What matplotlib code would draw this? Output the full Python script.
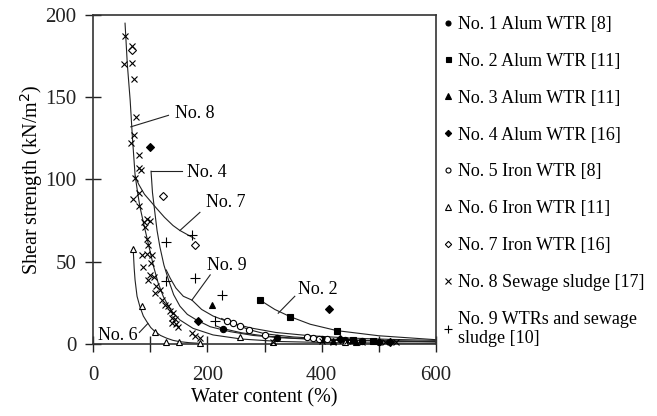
import numpy as np
import matplotlib.pyplot as plt

plt.rcParams['font.family'] = ['Liberation Serif', 'DejaVu Serif']

# Measured points: water content (%) and shear strength (kN/m2) per data set
no1_w = [228, 321, 400, 440, 470, 500]
no1_s = [9.1, 3.5, 3.0, 2.5, 2.0, 1.5]
no2_w = [292, 345, 427, 455, 490]
no2_s = [26.7, 16.6, 8.1, 2.5, 2.0]
no3_w = [209, 420, 460]
no3_s = [23.7, 2.0, 1.5]
no4_w = [100, 183, 413, 432, 520]
no4_s = [120, 14, 21, 3.0, 1.5]
no5_w = [234, 245, 257, 272, 301, 375, 385, 395, 410]
no5_s = [14.0, 12.5, 11.0, 8.5, 5.5, 4.0, 3.5, 3.0, 3.0]
no6_w = [70.5, 85, 108.5, 128, 150, 187, 257, 315, 440]
no6_s = [57.8, 23, 7.5, 1.4, 1.4, 0.4, 4.5, 1.5, 1.0]
no7_w = [69, 122, 178]
no7_s = [179, 90, 60]
no8_w = [56, 68, 55, 68, 72, 76, 71, 66, 81, 81, 84, 74, 81, 70, 81, 94, 89, 91, 100,
         94, 97, 85, 94, 103, 88, 102, 100, 106, 97, 111, 117, 109, 120, 126, 132, 135,
         140, 138, 143, 146, 138, 149, 173, 178, 187, 315, 400, 420, 445, 470, 490, 510, 530]
no8_s = [187, 181, 170, 171, 161, 138, 127, 122, 115, 107, 106, 101, 92, 88, 84, 76, 74, 71, 75,
         64, 60, 54, 55, 54, 47, 49, 42, 41, 39, 35, 33, 31, 27, 24, 23, 20,
         19, 16, 15, 12, 13, 10.5, 6.5, 5, 3.4, 1.4, 2.0, 1.5, 2.0, 1.0, 2.0, 1.0, 1.0]
no9_w = [128, 173, 178, 128, 225, 213]
no9_s = [62, 66, 40, 38, 30, 14]

# Fitted trend curves
fit1_w = [215, 228, 260, 300, 350, 400, 470, 540, 600]
fit1_s = [11, 9.3, 6.8, 4.9, 3.6, 2.8, 2.1, 1.6, 1.3]
fit2_w = [292, 318, 345, 380, 427, 500, 600]
fit2_s = [26.7, 21, 16.6, 12, 8.1, 5, 2.6]
fit4_w = [101.5, 104, 108.5, 112, 117, 124, 132, 141, 152, 165, 181, 205, 240, 280, 327, 400, 480, 600]
fit4_s = [105, 92, 79, 69, 59, 48, 39, 30, 23, 18, 14.6, 10.5, 7.5, 5.2, 3.8, 2.6, 2.0, 1.4]
fit5_w = [225, 234, 257, 272, 301, 350, 400, 450, 520, 600]
fit5_s = [15.5, 14, 11, 8.8, 6.2, 4.3, 3.2, 2.5, 1.9, 1.5]
fit6_w = [70.5, 72, 73.5, 77, 82, 88, 94, 101, 108.5, 118, 129, 140, 152, 168, 187]
fit6_s = [56, 46, 39, 29, 22.7, 17, 13.6, 10, 7.5, 5.2, 3.5, 2.2, 1.4, 0.8, 0.4]
fit7_w = [73.5, 80, 90, 100, 111, 125, 140, 152, 165, 178]
fit7_s = [102, 97, 91, 87, 82.5, 77, 72, 69, 66.5, 64]
fit8_w = [56, 60, 65, 69, 73.5, 78, 82, 88, 94, 100, 106, 114, 123, 136, 152, 175, 210, 260, 327, 420, 600]
fit8_s = [195, 170, 148, 125, 103, 92, 83.5, 74, 65, 56, 47, 37, 28.8, 20.5, 14.6, 9.5, 5.5, 3.0, 1.5, 0.8, 0.4]
fit9_w = [128, 135, 145, 158, 173, 190, 210, 240, 275, 320, 380, 450, 520, 600]
fit9_s = [45, 40, 34, 29, 26.7, 21, 17, 13, 9.8, 7, 5, 3.6, 2.8, 2.2]

fig = plt.figure(figsize=(6.57, 4.16), dpi=100)
ax = fig.add_axes([0.1416, 0.1731, 0.5220, 0.7909])

line_kw = dict(color='#222222', linewidth=0.8)
for fw, fs in [(fit1_w, fit1_s), (fit2_w, fit2_s), (fit4_w, fit4_s), (fit5_w, fit5_s),
               (fit6_w, fit6_s), (fit7_w, fit7_s), (fit8_w, fit8_s), (fit9_w, fit9_s)]:
    ax.plot(fw, fs, **line_kw)

# Data series (marker, face colour, size, label)
series = [
    (no1_w, no1_s, 'o', 'black', 4.5, 'No. 1 Alum WTR [8]'),
    (no2_w, no2_s, 's', 'black', 4.5, 'No. 2 Alum WTR [11]'),
    (no3_w, no3_s, '^', 'black', 5, 'No. 3 Alum WTR [11]'),
    (no4_w, no4_s, 'D', 'black', 4, 'No. 4 Alum WTR [16]'),
    (no5_w, no5_s, 'o', 'white', 4.5, 'No. 5 Iron WTR [8]'),
    (no6_w, no6_s, '^', 'white', 5, 'No. 6 Iron WTR [11]'),
    (no7_w, no7_s, 'D', 'white', 4, 'No. 7 Iron WTR [16]'),
    (no8_w, no8_s, 'x', 'black', 5, 'No. 8 Sewage sludge [17]'),
    (no9_w, no9_s, '+', 'black', 6.5, 'No. 9 WTRs and sewage\nsludge [10]'),
]
for w, s, mk, fc, ms, lab in series:
    ax.plot(w, s, linestyle='none', marker=mk, markersize=ms, markerfacecolor=fc,
            markeredgecolor='black', markeredgewidth=0.8, label=lab, clip_on=False, zorder=3)

# Curve labels with leader lines
labels = [
    ('No. 8', (178, 140), (132, 139), (66, 132)),
    ('No. 4', (199, 104), (155, 105), (101.5, 105)),
    ('No. 7', (233, 86), (187, 80), (152, 69)),
    ('No. 9', (234, 48), (205, 42), (173, 26.7)),
    ('No. 2', (394, 33), (353, 29), (324, 18.7)),
    ('No. 6', (43, 5), (81, 7), (96, 12.5)),
]
for txt, pos, start, end in labels:
    ax.text(pos[0], pos[1], txt, fontsize=13, ha='center', va='center', zorder=4)
    ax.plot([start[0], end[0]], [start[1], end[1]], **line_kw)

ax.set_xlim(0, 600)
ax.set_ylim(0, 200)
ax.set_xticks(np.arange(0, 601, 100))
ax.set_xticklabels(['0', '', '200', '', '400', '', '600'])
ax.set_yticks(np.arange(0, 201, 50))
ax.tick_params(direction='inout', length=12, width=1, labelsize=15, colors='#222222')
ax.tick_params(axis='x', pad=10)
ax.tick_params(axis='y', pad=6)
for sp in ax.spines.values():
    sp.set_linewidth(1.2)
    sp.set_color('#333333')

ax.set_xlabel('Water content (%)', fontsize=14.5, labelpad=2)
ax.set_ylabel('Shear strength (kN/m$^2$)', fontsize=14.5, labelpad=0)

ax.legend(loc='upper left', bbox_to_anchor=(0.99, 1.03), frameon=False, fontsize=13,
          markerscale=0.8, handlelength=0.5, handletextpad=0.3, labelspacing=1.1,
          borderaxespad=0.2)

plt.savefig('out.png', dpi=100)
